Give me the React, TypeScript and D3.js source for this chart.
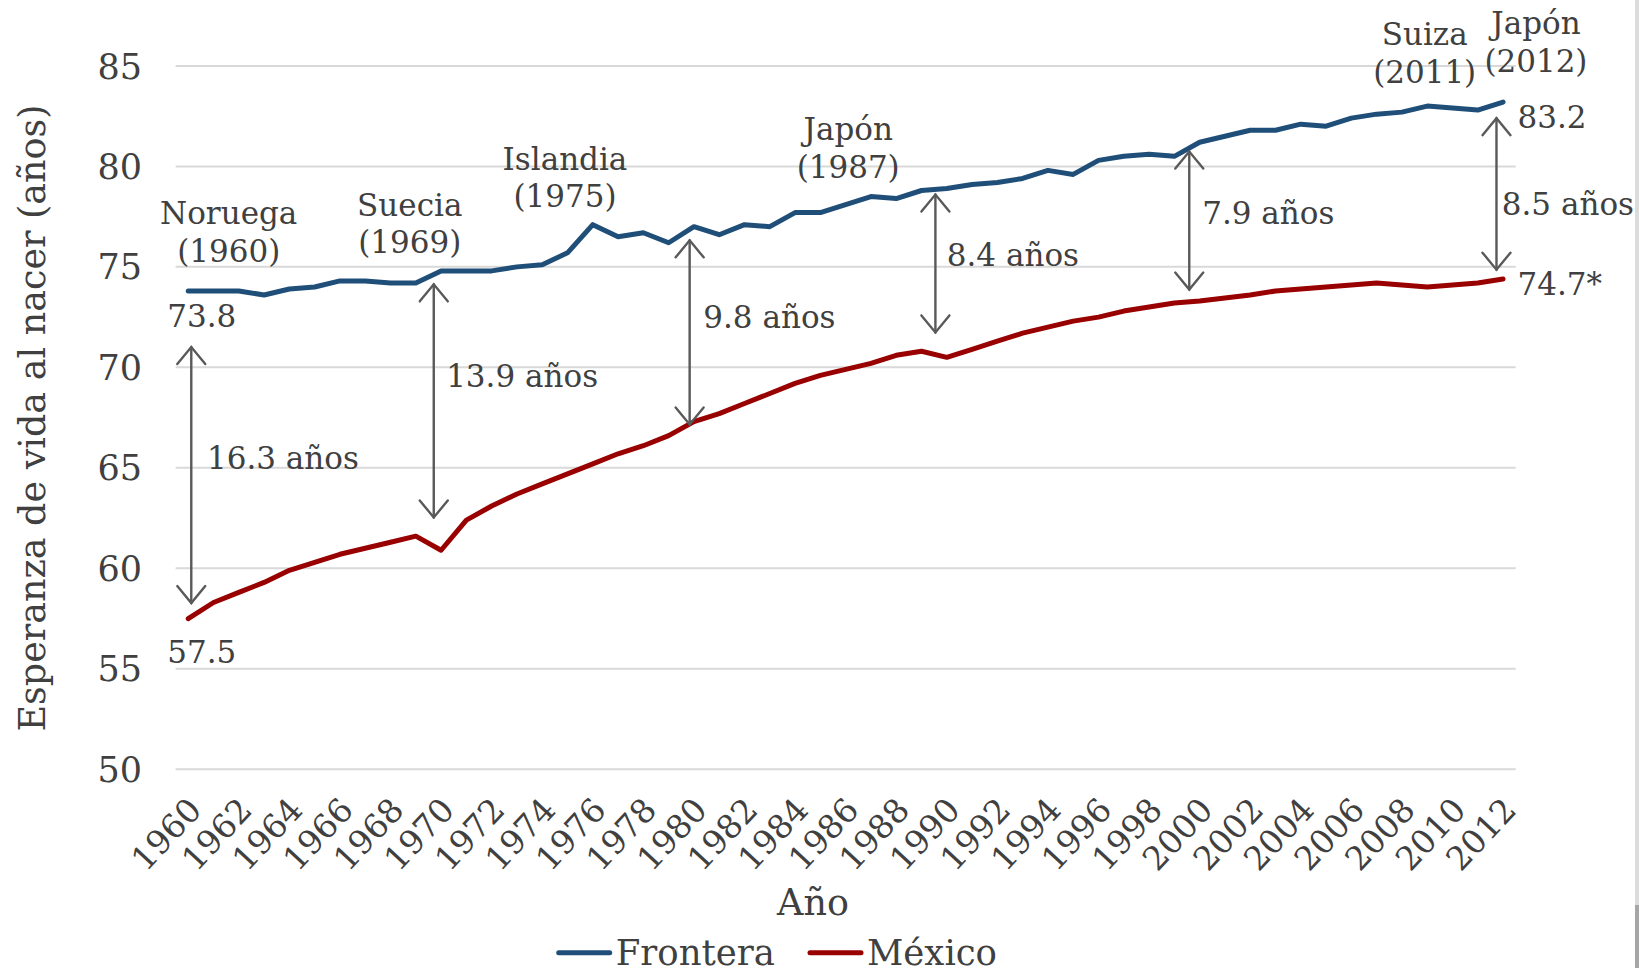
import { useRef, useEffect } from "react";
import * as d3 from "d3";

const years = [
  1960, 1961, 1962, 1963, 1964, 1965, 1966, 1967, 1968, 1969,
  1970, 1971, 1972, 1973, 1974, 1975, 1976, 1977, 1978, 1979,
  1980, 1981, 1982, 1983, 1984, 1985, 1986, 1987, 1988, 1989,
  1990, 1991, 1992, 1993, 1994, 1995, 1996, 1997, 1998, 1999,
  2000, 2001, 2002, 2003, 2004, 2005, 2006, 2007, 2008, 2009,
  2010, 2011, 2012,
];

// esperanza de vida en la frontera (país con mayor valor cada año)
const frontera = [
  73.8, 73.8, 73.8, 73.6, 73.9, 74.0, 74.3, 74.3, 74.2, 74.2,
  74.8, 74.8, 74.8, 75.0, 75.1, 75.7, 77.1, 76.5, 76.7, 76.2,
  77.0, 76.6, 77.1, 77.0, 77.7, 77.7, 78.1, 78.5, 78.4, 78.8,
  78.9, 79.1, 79.2, 79.4, 79.8, 79.6, 80.3, 80.5, 80.6, 80.5,
  81.2, 81.5, 81.8, 81.8, 82.1, 82.0, 82.4, 82.6, 82.7, 83.0,
  82.9, 82.8, 83.2,
];

const mexico = [
  57.5, 58.3, 58.8, 59.3, 59.9, 60.3, 60.7, 61.0, 61.3, 61.6,
  60.9, 62.4, 63.1, 63.7, 64.2, 64.7, 65.2, 65.7, 66.1, 66.6,
  67.3, 67.7, 68.2, 68.7, 69.2, 69.6, 69.9, 70.2, 70.6, 70.8,
  70.5, 70.9, 71.3, 71.7, 72.0, 72.3, 72.5, 72.8, 73.0, 73.2,
  73.3, 73.45, 73.6, 73.8, 73.9, 74.0, 74.1, 74.2, 74.1, 74.0,
  74.1, 74.2, 74.4,
];

const yTicks = [50, 55, 60, 65, 70, 75, 80, 85];
const xTickYears = years.filter((y) => y % 2 === 0);

// países en la frontera (texto en dos renglones, anclado en año / valor)
const countryNames = ["Noruega", "Suecia", "Islandia", "Japón", "Suiza", "Japón"];
const countryYears = ["(1960)", "(1969)", "(1975)", "(1987)", "(2011)", "(2012)"];
const countryAtYear = [1961.6, 1968.76, 1974.9, 1986.1, 2008.9, 2013.3];
const countryAtValue = [77.67, 78.08, 80.37, 81.83, 86.56, 87.13];

// brechas
const gapLabels = ["16.3 años", "13.9 años", "9.8 años", "8.4 años", "7.9 años", "8.5 años"];
const gapLabelYear = [1960.74, 1970.2, 1980.37, 1990.0, 2000.1, 2011.95];
const gapLabelValue = [65.5, 69.55, 72.52, 75.59, 77.67, 78.14];
const arrowYear = [1960.12, 1969.71, 1979.83, 1989.55, 1999.59, 2011.74];
const arrowTop = [71.01, 74.13, 76.32, 78.6, 80.74, 82.4];
const arrowBottom = [58.27, 62.53, 67.16, 71.74, 73.87, 74.86];

// valores extremos
const endLabels = ["73.8", "57.5", "83.2", "74.7*"];
const endLabelYear = [1959.17, 1959.17, 2012.57, 2012.57];
const endLabelValue = [72.57, 55.82, 82.45, 74.13];

const legendNames = ["Frontera", "México"];

const W = 1639;
const H = 968;
const BLUE = "#1f4e79";
const RED = "#990000";
const TEXT = "#404040";
const ARROW = "#595959";
const FONT = "'DejaVu Serif', serif";

function LifeExpectancyChart() {
  const svgRef = useRef<SVGSVGElement | null>(null);

  useEffect(() => {
    const svg = d3.select(svgRef.current);
    svg.selectAll("*").remove();

    const left = 175.6;
    const right = 1515.7;

    const x = d3.scaleBand<number>().domain(years).range([left, right]).padding(0);
    const bw = x.bandwidth();
    const cx = (yr: number) => (x(yr) as number) + bw / 2;
    const xl = d3.scaleLinear().domain([1960, 2012]).range([cx(1960), cx(2012)]);
    const y = d3.scaleLinear().domain([50, 85]).range([769.3, 65.9]);

    svg.append("rect").attr("width", W).attr("height", H).attr("fill", "#fff");

    // gridlines
    svg.append("g")
      .selectAll("line")
      .data(yTicks)
      .join("line")
      .attr("x1", left).attr("x2", right)
      .attr("y1", (d) => y(d)).attr("y2", (d) => y(d))
      .attr("stroke", "#d9d9d9")
      .attr("stroke-width", 2);

    // y tick labels
    svg.append("g")
      .selectAll("text")
      .data(yTicks)
      .join("text")
      .attr("x", 142)
      .attr("y", (d) => y(d))
      .attr("dy", "0.36em")
      .attr("text-anchor", "end")
      .attr("font-size", 35)
      .attr("fill", TEXT)
      .text((d) => d);

    // x tick labels (rotated)
    svg.append("g")
      .selectAll("text")
      .data(xTickYears)
      .join("text")
      .attr("transform", (d) => `translate(${cx(d) + 15},${y(50) + 42}) rotate(-47)`)
      .attr("text-anchor", "end")
      .attr("font-size", 33)
      .attr("fill", TEXT)
      .text((d) => d);

    // axis titles
    svg.append("text")
      .attr("x", 813).attr("y", 915)
      .attr("text-anchor", "middle")
      .attr("font-size", 36.5)
      .attr("fill", TEXT)
      .text("Año");

    svg.append("text")
      .attr("transform", `translate(45,418) rotate(-90)`)
      .attr("text-anchor", "middle")
      .attr("font-size", 36.5)
      .attr("fill", TEXT)
      .text("Esperanza de vida al nacer (años)");

    // series
    const lineGen = d3.line<number>()
      .x((d, i) => cx(years[i]))
      .y((d) => y(d));

    svg.append("path")
      .datum(frontera)
      .attr("d", lineGen)
      .attr("fill", "none")
      .attr("stroke", BLUE)
      .attr("stroke-width", 5)
      .attr("stroke-linecap", "round")
      .attr("stroke-linejoin", "round");

    svg.append("path")
      .datum(mexico)
      .attr("d", lineGen)
      .attr("fill", "none")
      .attr("stroke", RED)
      .attr("stroke-width", 5)
      .attr("stroke-linecap", "round")
      .attr("stroke-linejoin", "round");

    // double-headed arrows
    const arrows = svg.append("g")
      .attr("stroke", ARROW)
      .attr("stroke-width", 2.4)
      .attr("fill", "none")
      .attr("stroke-linecap", "round");
    arrowYear.forEach((yr, i) => {
      const ax = xl(yr);
      const y0 = y(arrowTop[i]);
      const y1 = y(arrowBottom[i]);
      arrows.append("line").attr("x1", ax).attr("x2", ax).attr("y1", y0).attr("y2", y1);
      arrows.append("path").attr("d", `M${ax - 14},${y0 + 17}L${ax},${y0}L${ax + 14},${y0 + 17}`);
      arrows.append("path").attr("d", `M${ax - 14},${y1 - 17}L${ax},${y1}L${ax + 14},${y1 - 17}`);
    });

    // gap labels
    svg.append("g")
      .selectAll("text")
      .data(gapLabels)
      .join("text")
      .attr("x", (d, i) => xl(gapLabelYear[i]))
      .attr("y", (d, i) => y(gapLabelValue[i]))
      .attr("dy", "0.35em")
      .attr("font-size", 31)
      .attr("fill", TEXT)
      .text((d) => d);

    // end values
    svg.append("g")
      .selectAll("text")
      .data(endLabels)
      .join("text")
      .attr("x", (d, i) => xl(endLabelYear[i]))
      .attr("y", (d, i) => y(endLabelValue[i]))
      .attr("dy", "0.35em")
      .attr("font-size", 31)
      .attr("fill", TEXT)
      .text((d) => d);

    // frontier countries
    const countries = svg.append("g")
      .attr("font-size", 31)
      .attr("fill", TEXT)
      .attr("text-anchor", "middle");
    countryNames.forEach((name, i) => {
      const t = countries.append("text")
        .attr("x", xl(countryAtYear[i]))
        .attr("y", y(countryAtValue[i]));
      t.append("tspan").attr("x", xl(countryAtYear[i])).attr("dy", "0.35em").text(name);
      t.append("tspan").attr("x", xl(countryAtYear[i])).attr("dy", 37.6).text(countryYears[i]);
    });

    // legend
    const legend = svg.append("g");
    const legendColors = [BLUE, RED];
    const legendX = [556.7, 808];
    legendNames.forEach((name, i) => {
      legend.append("line")
        .attr("x1", legendX[i] + 2).attr("x2", legendX[i] + 53)
        .attr("y1", 952.7).attr("y2", 952.7)
        .attr("stroke", legendColors[i])
        .attr("stroke-width", 5)
        .attr("stroke-linecap", "round");
      legend.append("text")
        .attr("x", legendX[i] + 59)
        .attr("y", 952)
        .attr("dy", "0.36em")
        .attr("font-size", 35.5)
        .attr("fill", TEXT)
        .text(name);
    });

    // page edge
    svg.append("rect").attr("x", 1635).attr("y", 0).attr("width", 4).attr("height", 905).attr("fill", "#dcdcdc");
    svg.append("rect").attr("x", 1635).attr("y", 905).attr("width", 4).attr("height", 63).attr("fill", "#a6a6a6");
  }, []);

  return (
    <svg
      ref={svgRef}
      width={W}
      height={H}
      style={{ position: "fixed", top: 0, left: 0, display: "block", fontFamily: FONT }}
    />
  );
}

export default function App() {
  return <LifeExpectancyChart />;
}
